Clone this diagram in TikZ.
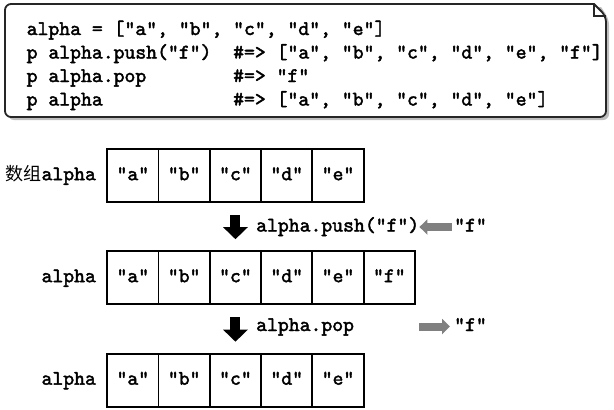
\documentclass[tikz,border=0pt]{standalone}
\usepackage{fontspec}
\newfontfamily\codefont{lmmono10-regular.otf}[FakeBold=2]
\newfontfamily\cjkfont{Noto Sans CJK SC}
\usetikzlibrary{positioning,matrix,calc,arrows.meta}
\definecolor{notegray}{RGB}{190,190,190}
\definecolor{arrowgray}{RGB}{128,128,128}

\begin{document}
\begin{tikzpicture}[x=1pt, y=-1pt,
  code/.style={font=\codefont\fontsize{20.7}{23}\selectfont, inner sep=0pt, text height=12.5pt, text depth=3.5pt},
  cell/.style={code, draw, line width=1.8pt, outer sep=0pt, minimum width=51.3pt, minimum height=53pt},
  myarray/.style={matrix of nodes, nodes=cell, column sep=-1.8pt, inner sep=0pt, matrix anchor=north west},
  downarrow/.style={line width=10pt, -{Triangle[width=24pt,length=12pt]}, shorten <=13pt, shorten >=12pt},
  grayarrow/.style={arrowgray, line width=8pt, -{Triangle[width=15pt,length=8pt]}}
  ]
  \useasboundingbox (0,0) rectangle (614,410);

  % the note with the code
  \fill[notegray] (601,7) [rounded corners=6pt] -- (8,7) -- (8,120) -- (609,120) -- (609,19) [sharp corners] -- cycle;
  \draw[draw=black!85, fill=white, line width=1.8pt] (594,4) [rounded corners=6pt] -- (5,4) -- (5,117) -- (606,117) -- (606,16) [sharp corners] -- cycle;
  \draw[line width=1.2pt, black!85] (594,4) -- (594,16) -- (606,16);

  \node[code, anchor=base west] (line1) at (26.5,35) {alpha = ["a", "b", "c", "d", "e"]};
  \node[code, anchor=base west] (line2) at (26.5,58.5) {p alpha.push("f")~~\#=> ["a", "b", "c", "d", "e", "f"]};
  \node[code, anchor=base west] (line3) at (26.5,82) {p alpha.pop~~~~~~~~\#=> "f"};
  \node[code, anchor=base west] (line4) at (26.5,105.5) {p alpha~~~~~~~~~~~~\#=> ["a", "b", "c", "d", "e"]};

  % the three arrays
  \matrix[myarray] (arr1) at (106.1,148.1) {
    "a" & "b" & "c" & "d" & "e" \\
  };
  \matrix[myarray] (arr2) at (106.1,250.1) {
    "a" & "b" & "c" & "d" & "e" & "f" \\
  };
  \matrix[myarray] (arr3) at (106.1,352.6) {
    "a" & "b" & "c" & "d" & "e" \\
  };

  \node[code, left=10pt of arr1] (name1) {{\cjkfont\fontsize{18}{23}\selectfont 数组}alpha};
  \node[code, left=10pt of arr2] (name2) {alpha};
  \node[code, left=10pt of arr3] (name3) {alpha};

  % push and pop
  \node[code, anchor=base west] (push) at (256,231.5) {alpha.push("f")};
  \node[code, anchor=base west] (fpush) at (454,231.5) {"f"};
  \node[code, anchor=base west] (pop) at (256,331) {alpha.pop};
  \node[code, anchor=base west] (fpop) at (454,331) {"f"};

  \draw[downarrow] (arr1-1-3.south) -- (arr2-1-3.north);
  \draw[downarrow] (arr2-1-3.south) -- (arr3-1-3.north);
  \draw[grayarrow, shorten <=2pt] (fpush.west) -- (push.east);
  \draw[grayarrow, shorten >=4pt] (fpop.west -| push.east) -- (fpop.west);
\end{tikzpicture}
\end{document}
